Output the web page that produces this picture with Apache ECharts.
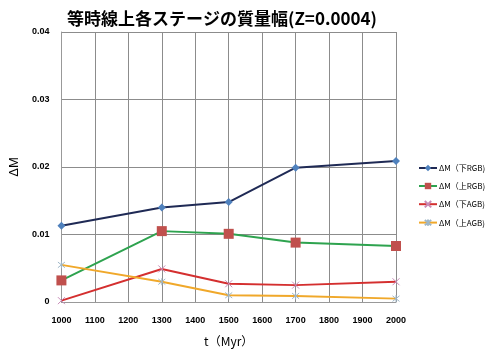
<!DOCTYPE html>
<html><head><meta charset="utf-8">
<script src="https://cdn.jsdelivr.net/npm/echarts@6/dist/echarts.min.js"></script>
<style>html,body{margin:0;padding:0;background:#fff}#c{width:500px;height:355px}</style>
</head><body><div id="c"></div>
<script>
const times = [1000, 1300, 1500, 1700, 2000];
const seriesNames = ['ΔM（下RGB)', 'ΔM（上RGB)', 'ΔM（下AGB)', 'ΔM（上AGB)'];
const lowerRGB = [0.0113, 0.0140, 0.0148, 0.0199, 0.0209];
const upperRGB = [0.0032, 0.0105, 0.0101, 0.0088, 0.0083];
const lowerAGB = [0.0002, 0.0049, 0.0027, 0.0025, 0.0030];
const upperAGB = [0.0055, 0.0030, 0.0010, 0.0009, 0.0005];
const titleText = '等時線上各ステージの質量幅(Z=0.0004)';

const X_PATH = 'path://M0,0L10,10M10,0L0,10';
const STAR_PATH = 'path://M5,0L5,10M0,1L10,9M10,1L0,9';
function pairs(v){ return times.map((t,i)=>[t, v[i]]); }
const font = '"Liberation Sans", Arial, sans-serif';
const chart = echarts.init(document.getElementById('c'));
chart.setOption({
  backgroundColor: '#fff',
  animation: false,
  title: { text: titleText, left: 217, top: 5, textAlign: 'center',
    textStyle: { fontFamily: '"Noto Sans CJK JP", sans-serif', fontSize: 17, fontWeight: 'bold', color: '#000' } },
  grid: { left: 57, right: 104, top: 32, bottom: 53, containLabel: false },
  legend: {
    orient: 'vertical', left: 413, top: 159, itemGap: 10, itemWidth: 18, itemHeight: 8,
    textStyle: { fontFamily: '"Noto Sans CJK JP", sans-serif', fontSize: 8, color: '#000', padding: [0, 0, 0, -3] },
    data: seriesNames
  },
  xAxis: {
    type: 'value', min: 1000, max: 2000, interval: 100,
    name: 't（Myr）', nameLocation: 'middle', nameGap: 33,
    nameTextStyle: { fontFamily: '"Noto Sans CJK JP", sans-serif', fontSize: 12, color: '#000' },
    axisLine: { show: true, lineStyle: { color: '#999' } },
    axisTick: { show: false },
    axisLabel: { fontFamily: font, fontSize: 9, fontWeight: 'bold', color: '#000', margin: 14,
      formatter: v => String(v) },
    splitLine: { show: true, lineStyle: { color: '#8c8c8c', width: 1 } }
  },
  yAxis: {
    type: 'value', min: 0, max: 0.04, interval: 0.01,
    name: 'ΔM', nameLocation: 'middle', nameGap: 39, nameRotate: 90,
    nameTextStyle: { fontFamily: font, fontSize: 13, color: '#000' },
    axisLine: { show: true, lineStyle: { color: '#999' } },
    axisTick: { show: false },
    axisLabel: { fontFamily: font, fontSize: 9, fontWeight: 'bold', color: '#000', margin: 12,
      formatter: v => v === 0 ? '0' : v.toFixed(2) },
    splitLine: { show: true, lineStyle: { color: '#8c8c8c', width: 1 } }
  },
  series: [
    { name: seriesNames[0], type: 'line', data: pairs(lowerRGB), symbol: 'diamond', symbolSize: 8,
      lineStyle: { color: '#1f2a55', width: 2 }, itemStyle: { color: '#4f81bd' } },
    { name: seriesNames[1], type: 'line', data: pairs(upperRGB), symbol: 'rect', symbolSize: 10,
      lineStyle: { color: '#2ea34f', width: 2 }, itemStyle: { color: '#c0504d' } },
    { name: seriesNames[2], type: 'line', data: pairs(lowerAGB), symbol: X_PATH, symbolSize: 7,
      lineStyle: { color: '#d42f2f', width: 2 }, itemStyle: { color: 'rgba(0,0,0,0)', borderColor: '#c88bb8', borderWidth: 1 } },
    { name: seriesNames[3], type: 'line', data: pairs(upperAGB), symbol: STAR_PATH, symbolSize: 7,
      lineStyle: { color: '#f0a82a', width: 2 }, itemStyle: { color: 'rgba(0,0,0,0)', borderColor: '#9fb7c8', borderWidth: 1 } }
  ]
});
</script></body></html>
